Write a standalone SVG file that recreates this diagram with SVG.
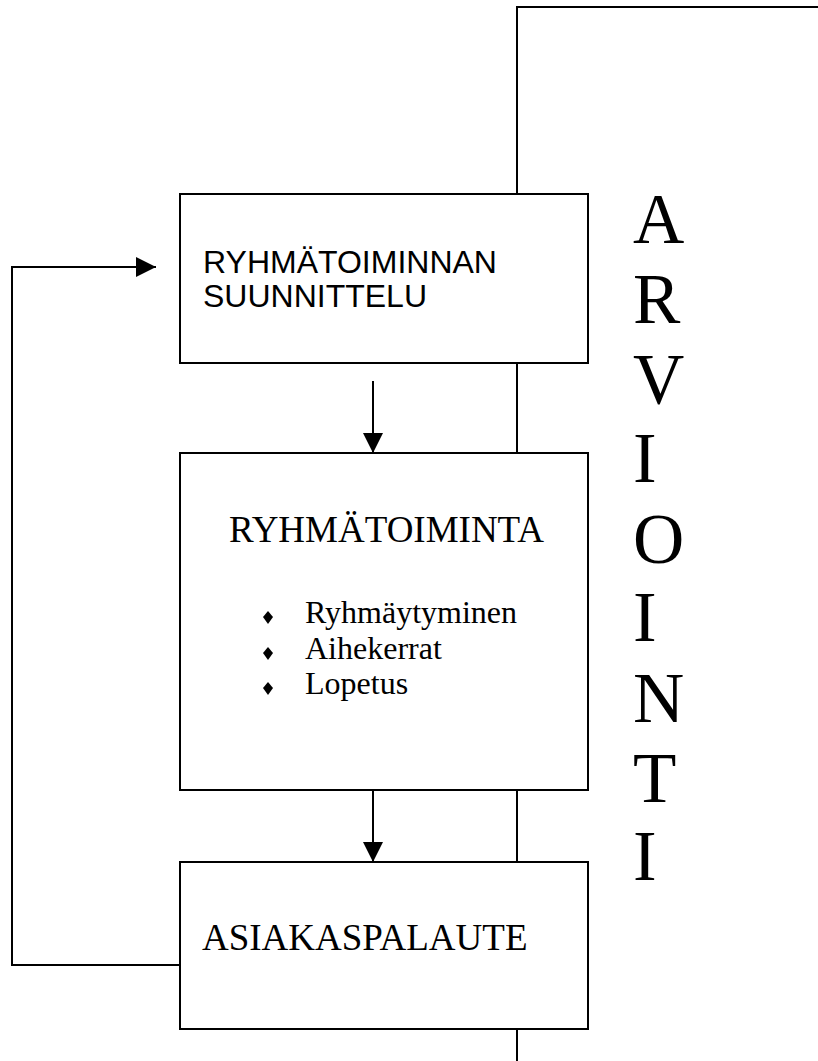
<svg xmlns="http://www.w3.org/2000/svg" width="818" height="1061" viewBox="0 0 818 1061">
<style>
.box{fill:#fff;stroke:#000;stroke-width:2}
.ln{fill:none;stroke:#000;stroke-width:2}
.sans{font-family:"Liberation Sans",Arial,sans-serif;fill:#000}
.serif{font-family:"Liberation Serif","Times New Roman",serif;fill:#000}
</style>
<defs>
<marker id="ah" markerUnits="userSpaceOnUse" markerWidth="20" markerHeight="20" refX="20" refY="10" orient="auto">
<path d="M0,0 L20,10 L0,20 z" fill="#000"/>
</marker>
</defs>
<rect width="818" height="1061" fill="#fff"/>
<g id="connectors">
<polyline class="ln" points="517,194 517,7 818,7"/>
<line class="ln" x1="517" y1="363" x2="517" y2="453"/>
<line class="ln" x1="517" y1="790" x2="517" y2="862"/>
<line class="ln" x1="517" y1="1029" x2="517" y2="1061"/>
<polyline class="ln" points="180,965 12,965 12,267 156,267" marker-end="url(#ah)"/>
<line class="ln" x1="373" y1="381" x2="373" y2="453" marker-end="url(#ah)"/>
<line class="ln" x1="373" y1="790" x2="373" y2="862" marker-end="url(#ah)"/>
</g>
<g id="node-suunnittelu">
<rect class="box" x="180" y="194" width="408" height="169"/>
<text class="sans" font-size="32" x="203" y="273">RYHMÄTOIMINNAN</text>
<text class="sans" font-size="32" x="203" y="307">SUUNNITTELU</text>
</g>
<g id="node-ryhmatoiminta">
<rect class="box" x="180" y="453" width="408" height="337"/>
<text class="serif" font-size="37" x="229" y="542">RYHMÄTOIMINTA</text>
<polygon points="268,611 273,617 268,624 263,617" fill="#000"/>
<polygon points="268,647 273,653 268,660 263,653" fill="#000"/>
<polygon points="268,682 273,688 268,695 263,688" fill="#000"/>
<text class="serif" font-size="32" x="305" y="623">Ryhmäytyminen</text>
<text class="serif" font-size="32" x="305" y="659">Aihekerrat</text>
<text class="serif" font-size="32" x="305" y="694">Lopetus</text>
</g>
<g id="node-asiakaspalaute">
<rect class="box" x="180" y="862" width="408" height="167"/>
<text class="serif" font-size="37" x="202" y="950">ASIAKASPALAUTE</text>
</g>
<g id="label-arviointi">
<text class="serif" font-size="71" x="633" y="243">A</text>
<text class="serif" font-size="71" x="633" y="323">R</text>
<text class="serif" font-size="71" x="633" y="403">V</text>
<text class="serif" font-size="71" x="633" y="482">I</text>
<text class="serif" font-size="71" x="633" y="563">O</text>
<text class="serif" font-size="71" x="633" y="641">I</text>
<text class="serif" font-size="71" x="633" y="722">N</text>
<text class="serif" font-size="71" x="633" y="802">T</text>
<text class="serif" font-size="71" x="633" y="880">I</text>
</g>
</svg>
